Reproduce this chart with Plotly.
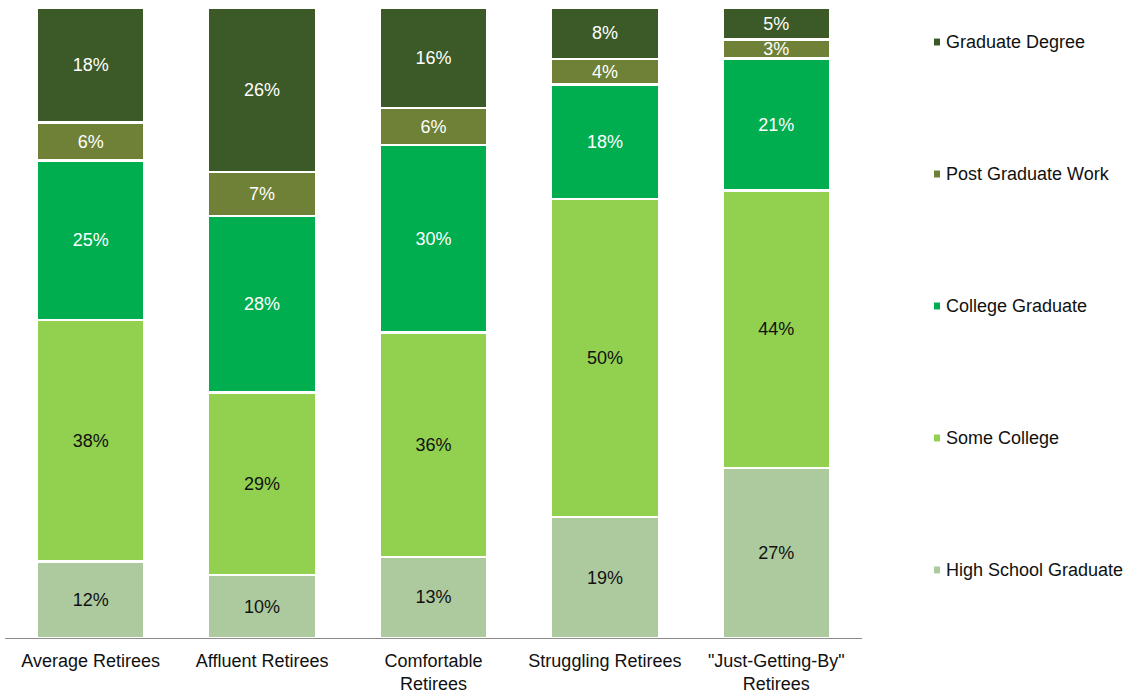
import plotly.graph_objects as go

# Education mix of retiree groups (percent of each group)
categories = ["Average Retirees", "Affluent Retirees", "Comfortable<br>Retirees",
              "Struggling Retirees", "\"Just-Getting-By\"<br>Retirees"]

high_school = [12, 10, 13, 19, 27]
some_college = [38, 29, 36, 50, 44]
college_grad = [25, 28, 30, 18, 21]
post_grad_work = [6, 7, 6, 4, 3]
graduate_degree = [18, 26, 16, 8, 5]

series = [
    ("High School Graduate", high_school, "#ADCA9F", "#111111"),
    ("Some College", some_college, "#92D050", "#111111"),
    ("College Graduate", college_grad, "#00AE4F", "#FFFFFF"),
    ("Post Graduate Work", post_grad_work, "#6E8136", "#FFFFFF"),
    ("Graduate Degree", graduate_degree, "#3C5A27", "#FFFFFF"),
]

FONT = "Liberation Sans, Arial, sans-serif"
FS = 18

fig = go.Figure()
for name, vals, color, txtcolor in series:
    fig.add_trace(go.Bar(
        x=categories, y=vals, name=name,
        marker=dict(color=color, line=dict(color="#FFFFFF", width=2.5)),
        text=[f"{v}%" for v in vals],
        textposition="inside", insidetextanchor="middle", textangle=0,
        textfont=dict(family=FONT, size=FS, color=txtcolor),
        showlegend=False,
    ))

# Legend drawn at the right: small square swatch plus label, top entry first
legend_y = [0.946, 0.7365, 0.527, 0.3175, 0.108]
for (name, vals, color, _), yy in zip(reversed(series), legend_y):
    fig.add_shape(type="rect", xref="paper", yref="paper",
                  x0=1.0840, x1=1.0910, y0=yy - 0.0055, y1=yy + 0.0055,
                  fillcolor=color, line=dict(width=0))
    fig.add_annotation(x=1.0955, y=yy, xref="paper", yref="paper",
                       text=name, showarrow=False, xanchor="left", yanchor="middle",
                       font=dict(family=FONT, size=FS, color="#111111"))

fig.update_layout(
    width=1130, height=694,
    barmode="stack", barnorm="percent", bargap=0.37,
    margin=dict(l=5, r=268, t=8, b=56),
    plot_bgcolor="white", paper_bgcolor="white",
    font=dict(family=FONT, size=FS, color="#111111"),
    uniformtext=dict(minsize=FS, mode="show"),
    xaxis=dict(showline=True, linecolor="#8C8C8C", linewidth=1.2,
               ticks="", showgrid=False, ticklabelstandoff=6, automargin=False,
               tickfont=dict(family=FONT, size=FS, color="#111111")),
    yaxis=dict(range=[0, 100], visible=False, showgrid=False, automargin=False),
)

fig.write_html("out.html")
